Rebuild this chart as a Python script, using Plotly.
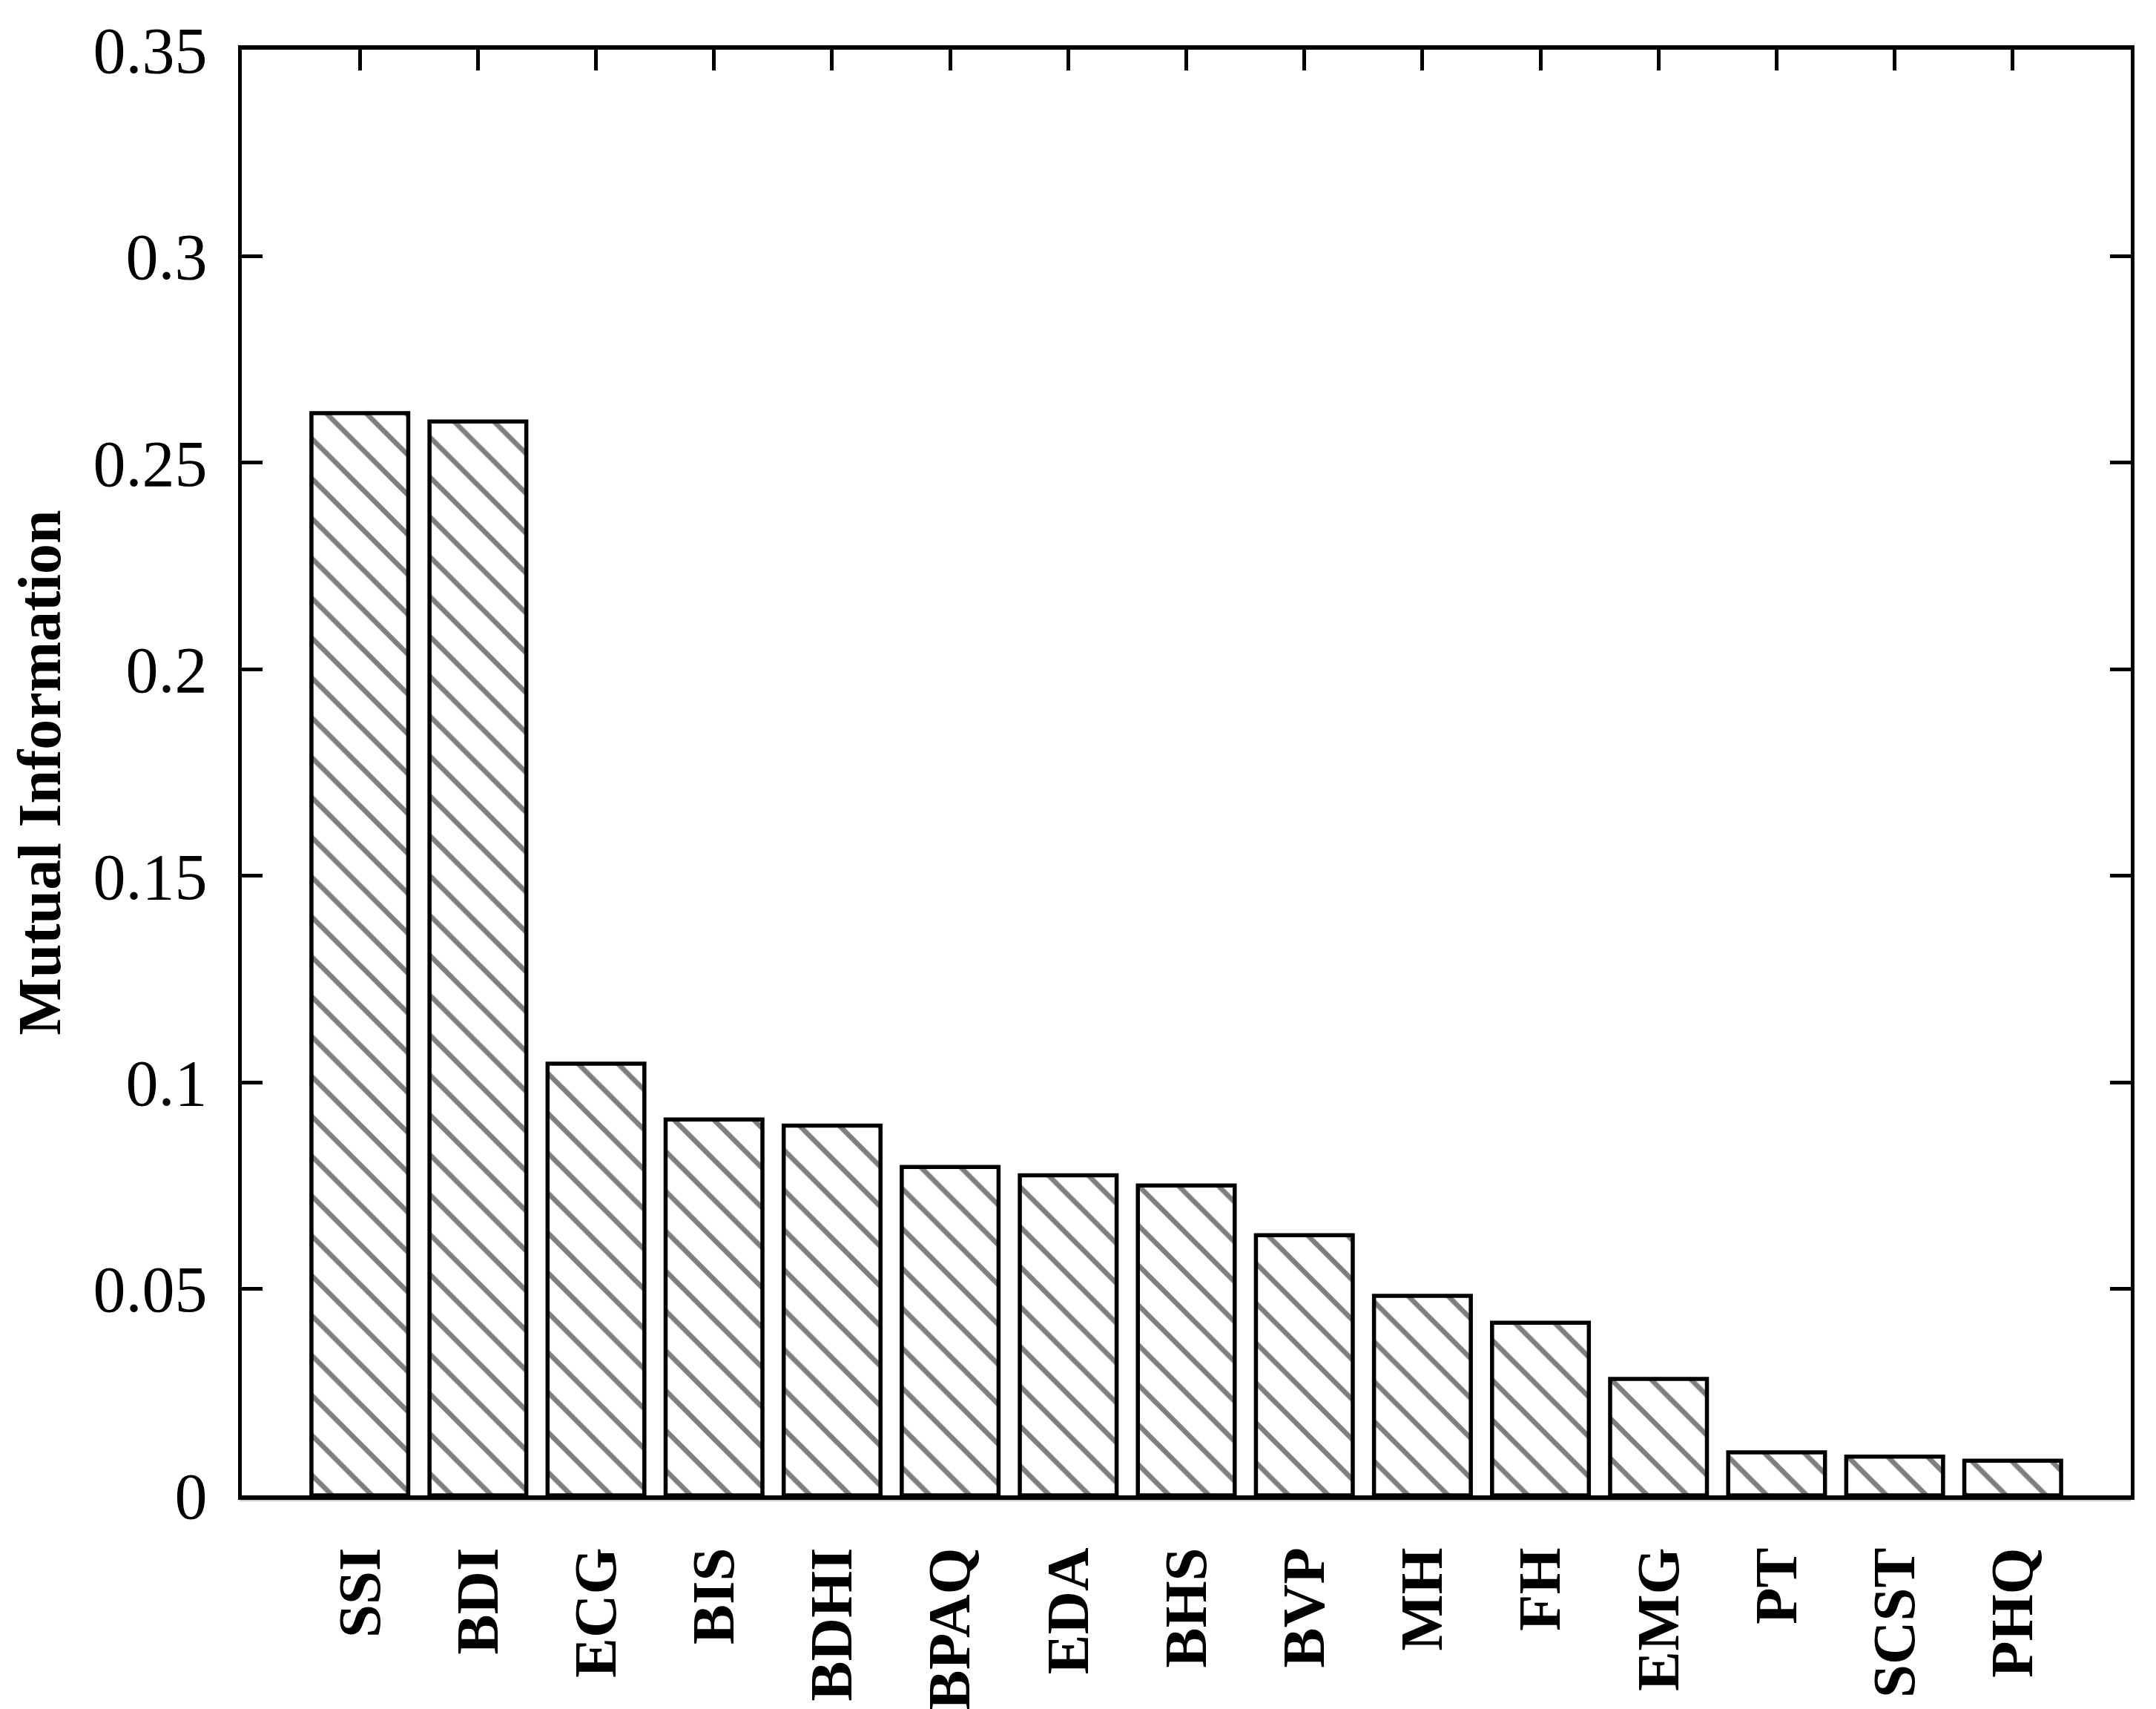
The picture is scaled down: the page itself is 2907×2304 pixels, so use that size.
import plotly.graph_objects as go

categories = ["SSI", "BDI", "ECG", "BIS", "BDHI", "BPAQ", "EDA", "BHS", "BVP",
              "MH", "FH", "EMG", "PT", "SCST", "PHQ"]
mutual_info = [0.262, 0.260, 0.1045, 0.091, 0.0895, 0.0795, 0.0775, 0.075, 0.063,
               0.0483, 0.0418, 0.0282, 0.0104, 0.0094, 0.0084]
y_tickvals = [0, 0.05, 0.1, 0.15, 0.2, 0.25, 0.3, 0.35]
y_ticktext = ["0", "0.05", "0.1", "0.15", "0.2", "0.25", "0.3", "0.35"]

positions = list(range(1, len(categories) + 1))

FONT = "Liberation Serif"

fig = go.Figure()
fig.add_trace(go.Bar(
    x=positions,
    y=mutual_info,
    width=0.82,
    marker=dict(
        color="white",
        line=dict(color="black", width=5.5),
        pattern=dict(shape="\\", size=38, solidity=0.18,
                     fgcolor="black", bgcolor="white", fillmode="overlay"),
    ),
    showlegend=False,
))

fig.update_layout(
    width=2907, height=2304,
    paper_bgcolor="white", plot_bgcolor="white",
    margin=dict(l=318, r=42, t=59, b=296, autoexpand=False),
    font=dict(family=FONT, color="black", size=88),
    xaxis=dict(
        range=[0, 16],
        tickmode="array", tickvals=positions, ticktext=categories,
        tickangle=-90,
        tickfont=dict(family=FONT, size=81, color="black", weight="bold"),
        ticks="inside", ticklen=28, tickwidth=5, tickcolor="black",
        showline=True, linecolor="black", linewidth=6, mirror="ticks",
        showgrid=False, zeroline=False,
        ticklabelstandoff=32,
        automargin=False,
        layer="below traces",
    ),
    yaxis=dict(
        range=[0, 0.35],
        tickmode="array", tickvals=y_tickvals, ticktext=y_ticktext,
        tickfont=dict(family=FONT, size=88, color="black"),
        ticks="inside", ticklen=28, tickwidth=5, tickcolor="black",
        showline=True, linecolor="black", linewidth=5, mirror="ticks",
        showgrid=False, zeroline=False,
        ticklabelstandoff=24,
        automargin=False,
        title=dict(text="Mutual Information",
                   font=dict(family=FONT, size=82, color="black", weight="bold"),
                   standoff=40),
    ),
    shapes=[dict(type="line", xref="paper", yref="paper",
                 x0=-0.001, x1=1.0, y0=-0.0029, y1=-0.0029,
                 line=dict(color="#cccccc", width=5), layer="below")],
)

fig.write_html("out.html")
